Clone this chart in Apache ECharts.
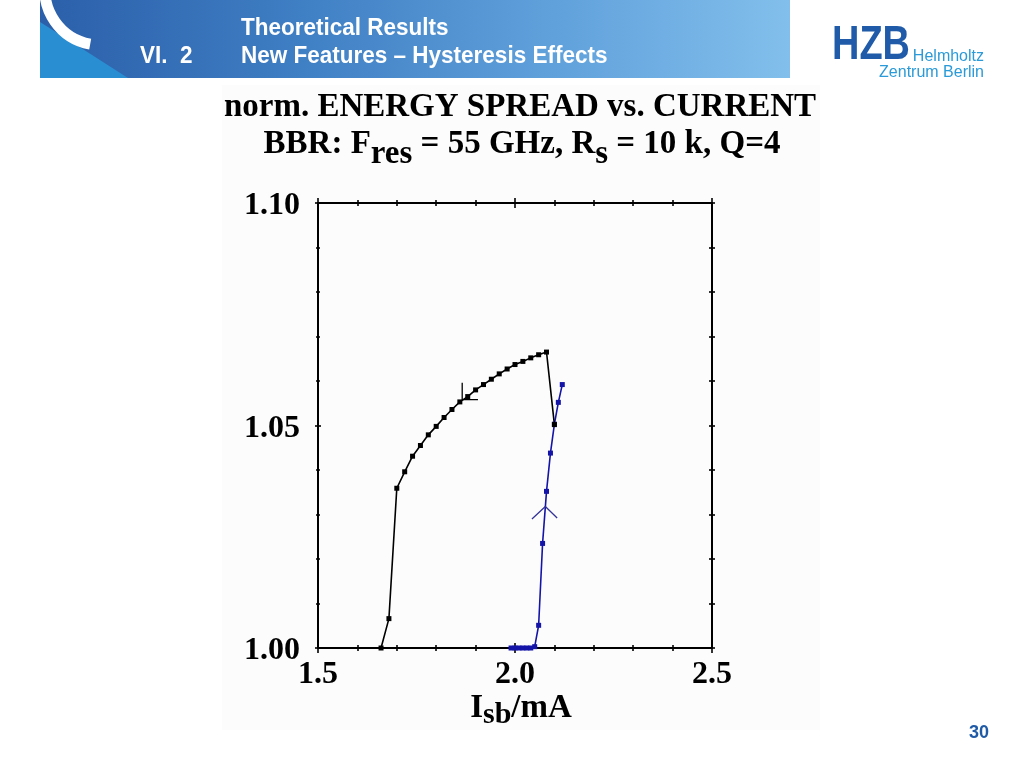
<!DOCTYPE html>
<html>
<head>
<meta charset="utf-8">
<script src="https://cdn.jsdelivr.net/npm/echarts@6.0.0/dist/echarts.min.js"></script>
<style>
  html, body { margin: 0; padding: 0; background: #ffffff; }
  #chart { width: 1024px; height: 768px; }
</style>
</head>
<body>
<div id="chart"></div>
<script>
// ---- Data ----
// Black branch (current decreasing)
const blackX = [1.66, 1.68, 1.70, 1.72, 1.74, 1.76, 1.78, 1.80, 1.82, 1.84, 1.86, 1.88, 1.90, 1.92, 1.94, 1.96, 1.98, 2.00, 2.02, 2.04, 2.06, 2.08, 2.10];
const blackY = [1.0000, 1.0066, 1.0359, 1.0396, 1.0431, 1.0455, 1.0479, 1.0498, 1.0518, 1.0536, 1.0553, 1.0565, 1.0580, 1.0592, 1.0604, 1.0616, 1.0627, 1.0637, 1.0644, 1.0652, 1.0659, 1.0665, 1.0502];
// Blue branch (current increasing)
const blueX = [1.99, 2.00, 2.01, 2.02, 2.03, 2.04, 2.05, 2.06, 2.07, 2.08, 2.09, 2.10, 2.11, 2.12];
const blueY = [1.0000, 1.0000, 1.0000, 1.0000, 1.0000, 1.0000, 1.0003, 1.0051, 1.0235, 1.0352, 1.0438, 1.0503, 1.0552, 1.0592];
// Direction arrow heads (data coordinates)
const blackArrowX = [1.866, 1.866, 1.906];
const blackArrowY = [1.0596, 1.0558, 1.0558];
const blueArrowX = [2.043, 2.077, 2.107];
const blueArrowY = [1.0290, 1.0318, 1.0292];
// Axes
const xTicks = [1.5, 2.0, 2.5];
const yTicks = [1.00, 1.05, 1.10];

const zip = (xs, ys) => xs.map((x, i) => [x, ys[i]]);

const SERIF = '"Liberation Serif", "Times New Roman", serif';
const SANS = '"Liberation Sans", Arial, sans-serif';

function xAxisDef(position, inside, showLabel, tickLen, minorLen) {
  return {
    type: 'value', position: position, min: xTicks[0], max: xTicks[xTicks.length - 1],
    interval: xTicks[1] - xTicks[0],
    splitLine: { show: false },
    axisLine: { show: true, onZero: false, lineStyle: { color: '#000', width: 2 } },
    axisTick: { show: true, inside: inside, length: tickLen, lineStyle: { color: '#000', width: 1.6 } },
    minorTick: { show: true, splitNumber: 5, length: minorLen, lineStyle: { color: '#000', width: 1.6 } },
    axisLabel: {
      show: showLabel, margin: 11, color: '#000',
      fontFamily: SERIF, fontWeight: 'bold', fontSize: 32,
      formatter: v => v.toFixed(1)
    }
  };
}
function yAxisDef(position, inside, showLabel, tickLen, minorLen) {
  return {
    type: 'value', position: position, min: yTicks[0], max: yTicks[yTicks.length - 1],
    interval: yTicks[1] - yTicks[0],
    splitLine: { show: false },
    axisLine: { show: true, onZero: false, lineStyle: { color: '#000', width: 2 } },
    axisTick: { show: true, inside: inside, length: tickLen, lineStyle: { color: '#000', width: 1.6 } },
    minorTick: { show: true, splitNumber: 5, length: minorLen, lineStyle: { color: '#000', width: 1.6 } },
    axisLabel: {
      show: showLabel, margin: 18, color: '#000',
      fontFamily: SERIF, fontWeight: 'bold', fontSize: 32,
      formatter: v => '{a|' + v.toFixed(2) + '}',
      rich: { a: { fontFamily: SERIF, fontWeight: 'bold', fontSize: 32, color: '#000', padding: [6, 0, 0, 0] } }
    }
  };
}

const chart = echarts.init(document.getElementById('chart'), null, { renderer: 'canvas' });

const option = {
  animation: false,
  backgroundColor: '#ffffff',
  grid: { left: 318, top: 203, width: 394, height: 445, containLabel: false },
  xAxis: [
    xAxisDef('bottom', false, true, 5, 3),
    xAxisDef('bottom', true, false, 5, 3),
    xAxisDef('top', false, false, 5, 3),
    xAxisDef('top', true, false, 5, 3)
  ],
  yAxis: [
    yAxisDef('left', false, true, 3, 2),
    yAxisDef('left', true, false, 3, 2),
    yAxisDef('right', false, false, 3, 3),
    yAxisDef('right', true, false, 3, 3)
  ],
  graphic: [
    // chart image background
    { type: 'rect', z: -10, shape: { x: 222, y: 85, width: 598, height: 645 }, style: { fill: '#fcfcfc' } },
    // header band
    { type: 'rect', z: -5, shape: { x: 40, y: 0, width: 750, height: 78 },
      style: { fill: new echarts.graphic.LinearGradient(0, 0, 1, 0, [
        { offset: 0, color: '#2b5fa9' }, { offset: 0.35, color: '#3f7fc4' },
        { offset: 0.7, color: '#62a2dc' }, { offset: 1, color: '#82bfec' }]) } },
    { type: 'polygon', z: -4, shape: { points: [[40, 22], [78, 46], [128, 78], [40, 78]] },
      style: { fill: '#2a8ed3' } },
    { type: 'arc', z: -3, shape: { cx: 100, cy: -10, r: 55, startAngle: 1.75, endAngle: 3.4 },
      style: { stroke: '#ffffff', lineWidth: 11, fill: null } },
    { type: 'text', x: 241, y: 28, scaleY: 1.08, style: { text: 'Theoretical Results', font: 'bold 22.5px ' + SANS, fill: '#ffffff', align: 'left', verticalAlign: 'middle' } },
    { type: 'text', x: 140, y: 56, scaleY: 1.08, style: { text: 'VI.  2', font: 'bold 22.5px ' + SANS, fill: '#ffffff', align: 'left', verticalAlign: 'middle' } },
    { type: 'text', x: 241, y: 56, scaleY: 1.08, style: { text: 'New Features \u2013 Hysteresis Effects', font: 'bold 22.5px ' + SANS, fill: '#ffffff', align: 'left', verticalAlign: 'middle' } },
    // logo
    { type: 'text', x: 832, y: 46, scaleX: 0.79, style: { text: 'HZB', font: 'bold 48px ' + SANS, fill: '#1f5ba8', align: 'left', verticalAlign: 'middle' } },
    { type: 'text', x: 984, y: 57, style: { text: 'Helmholtz', font: '16px ' + SANS, fill: '#2a9ad8', align: 'right', verticalAlign: 'middle' } },
    { type: 'text', x: 984, y: 73, style: { text: 'Zentrum Berlin', font: '16px ' + SANS, fill: '#2a9ad8', align: 'right', verticalAlign: 'middle' } },
    // page number
    { type: 'text', x: 979, y: 733, style: { text: '30', font: 'bold 18px ' + SANS, fill: '#1f5aa6', align: 'center', verticalAlign: 'middle' } },
    // chart titles
    { type: 'text', x: 520, y: 107, style: { text: 'norm. ENERGY SPREAD vs. CURRENT', font: 'bold 33px ' + SERIF, fill: '#000', align: 'center', verticalAlign: 'middle' } },
    { type: 'text', x: 522, y: 144, style: {
        text: '{m|BBR: F}{s|res}{m| = 55 GHz, R}{s|s}{m| = 10 k, Q=4}',
        font: 'bold 33px ' + SERIF, fill: '#000', align: 'center', verticalAlign: 'middle',
        rich: {
          m: { font: 'bold 33px ' + SERIF, fill: '#000' },
          s: { font: 'bold 33px ' + SERIF, fill: '#000', verticalAlign: 'top', padding: [20, 0, 0, 0] }
        } } },
    // x axis name
    { type: 'text', x: 521, y: 708, style: {
        text: '{m|I}{s|sb}{m|/mA}',
        font: 'bold 33px ' + SERIF, fill: '#000', align: 'center', verticalAlign: 'middle',
        rich: {
          m: { font: 'bold 33px ' + SERIF, fill: '#000' },
          s: { font: 'bold 30px ' + SERIF, fill: '#000', verticalAlign: 'top', padding: [14, 0, 0, 0] }
        } } }
  ],
  series: [
    {
      name: 'increasing', type: 'line', xAxisIndex: 0, yAxisIndex: 0, z: 3,
      data: zip(blueX, blueY),
      symbol: 'rect', symbolSize: 5, showAllSymbol: true,
      lineStyle: { color: '#1414a8', width: 1.6 },
      itemStyle: { color: '#1414a8' }
    },
    {
      name: 'decreasing', type: 'line', xAxisIndex: 0, yAxisIndex: 0, z: 4,
      data: zip(blackX, blackY),
      symbol: 'rect', symbolSize: 5, showAllSymbol: true,
      lineStyle: { color: '#000000', width: 1.6 },
      itemStyle: { color: '#000000' }
    },
    {
      name: 'arrowBlack', type: 'line', xAxisIndex: 0, yAxisIndex: 0, z: 5, silent: true,
      data: zip(blackArrowX, blackArrowY), symbol: 'none',
      lineStyle: { color: '#000000', width: 1.3 }
    },
    {
      name: 'arrowBlue', type: 'line', xAxisIndex: 0, yAxisIndex: 0, z: 5, silent: true,
      data: zip(blueArrowX, blueArrowY), symbol: 'none',
      lineStyle: { color: '#333399', width: 1.3 }
    }
  ]
};
chart.setOption(option);
</script>
</body>
</html>
